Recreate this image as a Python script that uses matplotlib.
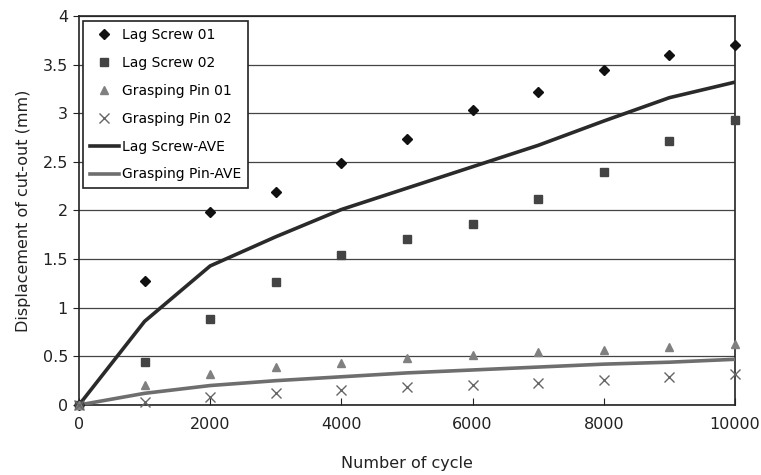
import numpy as np
import matplotlib
matplotlib.use('Agg')
import matplotlib.pyplot as plt

# number of cycles
cycles = [0, 1000, 2000, 3000, 4000, 5000, 6000, 7000, 8000, 9000, 10000]

# displacement of cut-out [mm]
lag_screw_01 = [0, 1.27, 1.98, 2.19, 2.49, 2.74, 3.03, 3.22, 3.44, 3.60, 3.70]
lag_screw_02 = [0, 0.44, 0.88, 1.26, 1.54, 1.71, 1.86, 2.12, 2.40, 2.71, 2.93]
grasp_pin_01 = [0, 0.21, 0.32, 0.39, 0.43, 0.48, 0.51, 0.54, 0.57, 0.60, 0.63]
grasp_pin_02 = [0, 0.035, 0.08, 0.12, 0.15, 0.18, 0.21, 0.23, 0.26, 0.285, 0.32]
lag_screw_ave = [0, 0.86, 1.43, 1.73, 2.01, 2.23, 2.45, 2.67, 2.92, 3.16, 3.32]
grasp_pin_ave = [0, 0.12, 0.20, 0.25, 0.29, 0.33, 0.36, 0.39, 0.42, 0.44, 0.47]

fig = plt.figure(figsize=(7.61, 4.75), dpi=100)
ax = fig.add_axes([0.1038, 0.1474, 0.862, 0.8189])

ax.plot(cycles, lag_screw_01, linestyle='none', marker='D', markersize=5,
        color='#111111', label='Lag Screw 01', clip_on=False, zorder=4)
ax.plot(cycles, lag_screw_02, linestyle='none', marker='s', markersize=6,
        color='#444444', label='Lag Screw 02', clip_on=False, zorder=4)
ax.plot(cycles, grasp_pin_01, linestyle='none', marker='^', markersize=6,
        color='#808080', label='Grasping Pin 01', clip_on=False, zorder=4)
ax.plot(cycles, grasp_pin_02, linestyle='none', marker='x', markersize=7,
        markeredgewidth=1.0, color='#666666', label='Grasping Pin 02', clip_on=False, zorder=4)
ax.plot(cycles, lag_screw_ave, color='#2a2a2a', linewidth=2.6, label='Lag Screw-AVE', zorder=3)
ax.plot(cycles, grasp_pin_ave, color='#6e6e6e', linewidth=2.6, label='Grasping Pin-AVE', zorder=3)

ax.set_xlim(0, 10000)
ax.set_ylim(0, 4)
ax.set_xticks(np.arange(0, 10001, 2000))
ax.set_yticks(np.arange(0, 4.01, 0.5))
ax.set_yticklabels(['0', '0.5', '1', '1.5', '2', '2.5', '3', '3.5', '4'])
ax.yaxis.grid(True, color='#444444', linewidth=0.9)
ax.set_axisbelow(True)
ax.tick_params(axis='x', direction='in', length=5, labelsize=11.5, pad=9, colors='#222222')
ax.tick_params(axis='y', direction='out', length=4, labelsize=11.5, pad=4, colors='#222222')
for s in ax.spines.values():
    s.set_color('#222222')
    s.set_linewidth(1.2)

ax.set_xlabel('Number of cycle', fontsize=11.5, labelpad=17, color='#222222')
ax.set_ylabel('Displacement of cut-out (mm)', fontsize=11.5, labelpad=8, color='#222222')

leg = ax.legend(loc='upper left', bbox_to_anchor=(0.006, 0.987), borderaxespad=0,
                fontsize=10, frameon=True, fancybox=False, edgecolor='#222222',
                framealpha=1, borderpad=0.5, labelspacing=1.0, handlelength=2.1,
                handletextpad=0.2)
leg.get_frame().set_linewidth(1.2)

plt.savefig('out.png', dpi=100)
